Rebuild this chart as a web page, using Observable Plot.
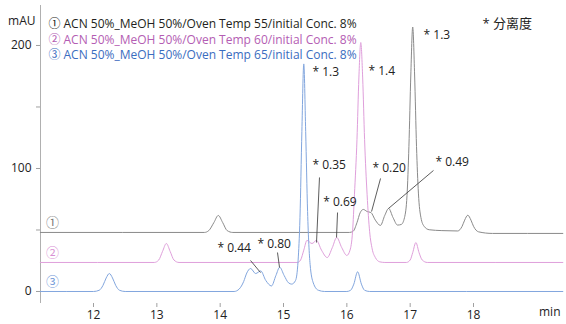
<!DOCTYPE html>
<html>
<head>
<meta charset="utf-8">
<script src="https://cdn.jsdelivr.net/npm/d3@7"></script>
<script src="https://cdn.jsdelivr.net/npm/@observablehq/plot@0.6"></script>
<style>
  body { margin: 0; background: #fff; }
  #chart svg { font-family: "Open Sans", "Noto Sans CJK SC", sans-serif; }
</style>
</head>
<body>
<div id="chart"></div>
<script>
// Retention time (min) and signal above each trace's own baseline (mAU)
const trace55 = [
  [11.16, 0], [13.75, 0], [13.82, 1.5], [13.9, 8], [13.97, 13.8], [14.04, 8], [14.11, 1.5], [14.2, 0],
  [16.04, 0], [16.1, 1], [16.16, 8], [16.21, 16], [16.26, 18.7], [16.32, 17], [16.38, 16.2], [16.45, 10],
  [16.53, 5.7], [16.6, 14], [16.66, 19.5], [16.73, 12], [16.8, 6], [16.86, 6.5], [16.91, 12], [16.95, 30],
  [16.98, 70], [17.01, 128], [17.04, 167], [17.07, 128], [17.1, 70], [17.13, 32], [17.17, 12], [17.22, 5],
  [17.3, 2.2], [17.5, 1.5], [17.75, 1.2], [17.82, 5], [17.86, 10], [17.91, 14], [17.96, 10], [18.0, 5],
  [18.08, 0.5], [18.3, -0.8], [19.41, -0.8]
];
const trace60 = [
  [11.16, 0], [12.96, 0], [13.03, 2], [13.09, 9], [13.15, 15.4], [13.21, 9], [13.27, 2], [13.35, 0],
  [15.22, 0], [15.27, 2], [15.32, 10], [15.37, 17.9], [15.45, 15.4], [15.52, 17.9], [15.6, 10], [15.69, 4],
  [15.77, 12], [15.84, 20.3], [15.92, 12], [16.0, 5.7], [16.05, 10], [16.09, 25], [16.12, 55], [16.16, 100],
  [16.19, 150], [16.22, 178.8], [16.25, 150], [16.28, 100], [16.32, 55], [16.36, 25], [16.4, 11], [16.45, 4],
  [16.52, 0.5], [16.6, 0], [16.94, 0], [17.0, 2], [17.04, 8], [17.09, 16.2], [17.14, 8], [17.19, 2],
  [17.27, 0], [19.41, 0]
];
const trace65 = [
  [11.16, 0], [12.0, 0], [12.09, 1], [12.15, 5], [12.2, 11], [12.25, 14.6], [12.3, 11], [12.35, 5],
  [12.41, 1], [12.5, 0], [14.22, 0], [14.3, 2], [14.37, 8], [14.42, 15], [14.48, 18.7], [14.56, 14.6],
  [14.64, 16.7], [14.72, 9], [14.81, 4.5], [14.88, 13], [14.94, 19.7], [15.01, 13], [15.08, 7], [15.13, 6],
  [15.19, 9], [15.23, 25], [15.26, 60], [15.29, 130], [15.32, 185], [15.35, 130], [15.38, 65], [15.42, 22],
  [15.47, 7], [15.55, 1], [15.65, 0], [16.0, 0], [16.06, 1], [16.11, 6], [16.17, 16], [16.23, 6],
  [16.28, 1], [16.36, 0], [19.41, 0]
];

// Vertical offset of each trace in the stacked display (mAU)
const traceOffsets = [48, 23.6, 0];
const traceNames = [
  "ACN 50%_MeOH 50%/Oven Temp 55/initial Conc. 8%",
  "ACN 50%_MeOH 50%/Oven Temp 60/initial Conc. 8%",
  "ACN 50%_MeOH 50%/Oven Temp 65/initial Conc. 8%"
];
const traceMarkers = ["①", "②", "③"];

// Resolution labels: text, label anchor (time, mAU)
const resText = ["* 1.3", "* 1.4", "* 1.3", "* 0.35", "* 0.69", "* 0.20", "* 0.49", "* 0.44", "* 0.80"];
const resAt = [
  [15.458, 178], [16.342, 179], [17.211, 208], [15.458, 102.4], [15.627, 72.4],
  [16.405, 100], [17.4, 105], [13.958, 34.9], [14.589, 38.2]
];
// Leader lines from label to peak: [t1, v1, t2, v2]
const leaders = [
  [15.568, 92.7, 15.521, 39.8],
  [15.853, 64.2, 15.837, 43.9],
  [16.532, 91.9, 16.39, 65],
  [17.368, 98.4, 16.658, 67.5],
  [14.479, 25.2, 14.637, 15.4],
  [14.905, 31.7, 14.937, 19.5]
];
const xTicks = [12, 13, 14, 15, 16, 17, 18];
const yTicks = [0, 50, 100, 150, 200];
const xDomain = [11.163, 19.405];
const yDomain = [-9.76, 232.5];

const lineColors = ["#8a8a8a", "#df9fdb", "#82a6de"];
const legendColors = ["#231f20", "#b45db3", "#3b6dc0"];
const markerColors = ["#7a7a7a", "#d890d4", "#6f97d8"];

const traces = [trace55, trace60, trace65];
const rows = traces.map((tr, i) => tr.map(([t, v]) => ({t, mAU: v + traceOffsets[i]})));
const markerRows = traceOffsets.map((o, i) => ({t: xDomain[0], mAU: o, label: traceMarkers[i], i}));
const resRows = resText.map((s, i) => ({label: s, t: resAt[i][0], mAU: resAt[i][1]}));
const leaderRows = leaders.map(([t1, v1, t2, v2]) => ({t1, v1, t2, v2}));

const chart = Plot.plot({
  width: 566,
  height: 324,
  marginLeft: 40,
  marginRight: 4,
  marginTop: 5,
  marginBottom: 21,
  style: {fontFamily: "'Open Sans', 'Noto Sans CJK SC', sans-serif", fontSize: "12px", background: "#fff"},
  x: {domain: xDomain},
  y: {domain: yDomain},
  marks: [
    Plot.ruleX([xDomain[0]], {stroke: "#b0b0b0", strokeWidth: 1}),
    Plot.axisY({ticks: yTicks, tickFormat: d => (d % 100 === 0 ? String(d) : ""), tickSize: 4, tickPadding: 5,
      stroke: "#a0a0a0", fill: "#222", label: null, fontSize: 12}),
    Plot.axisX({ticks: xTicks, tickSize: 4, tickPadding: 3, stroke: "#a0a0a0", fill: "#222", label: null, fontSize: 12}),
    ...rows.map((r, i) => Plot.line(r, {x: "t", y: "mAU", stroke: lineColors[i], strokeWidth: 1, curve: "monotone-x"})),
    Plot.text(markerRows, {x: "t", y: "mAU", text: "label", dx: 12, dy: -9.5, fill: d => markerColors[d.i],
      fontSize: 13, fontFamily: "'Noto Sans CJK JP', sans-serif"}),
    Plot.link(leaderRows, {x1: "t1", y1: "v1", x2: "t2", y2: "v2", stroke: "#333", strokeWidth: 0.8}),
    Plot.text(resRows, {x: "t", y: "mAU", text: "label", textAnchor: "start", fill: "#222", fontSize: 12}),
    ...traceNames.map((name, i) => Plot.text([traceMarkers[i]], {text: d => d, frameAnchor: "top-left", textAnchor: "start",
      dx: 8, dy: 14 + i * 15.5, fill: legendColors[i], fontSize: 12, fontFamily: "'Noto Sans CJK JP', sans-serif"})),
    ...traceNames.map((name, i) => Plot.text([name], {text: d => d, frameAnchor: "top-left", textAnchor: "start",
      dx: 23, dy: 14 + i * 15.5, fill: legendColors[i], fontSize: 12})),
    Plot.text(["* 分离度"], {text: d => d, frameAnchor: "top-right", textAnchor: "start", dx: -80, dy: 13, fill: "#222", fontSize: 13}),
    Plot.text(["mAU"], {text: d => d, frameAnchor: "top-left", textAnchor: "end", dx: -5, dy: 11, fill: "#222", fontSize: 12}),
    Plot.text(["min"], {text: d => d, frameAnchor: "bottom-right", textAnchor: "end", dx: -2, dy: 12, fill: "#222", fontSize: 12})
  ]
});
document.getElementById("chart").append(chart);
</script>
</body>
</html>
